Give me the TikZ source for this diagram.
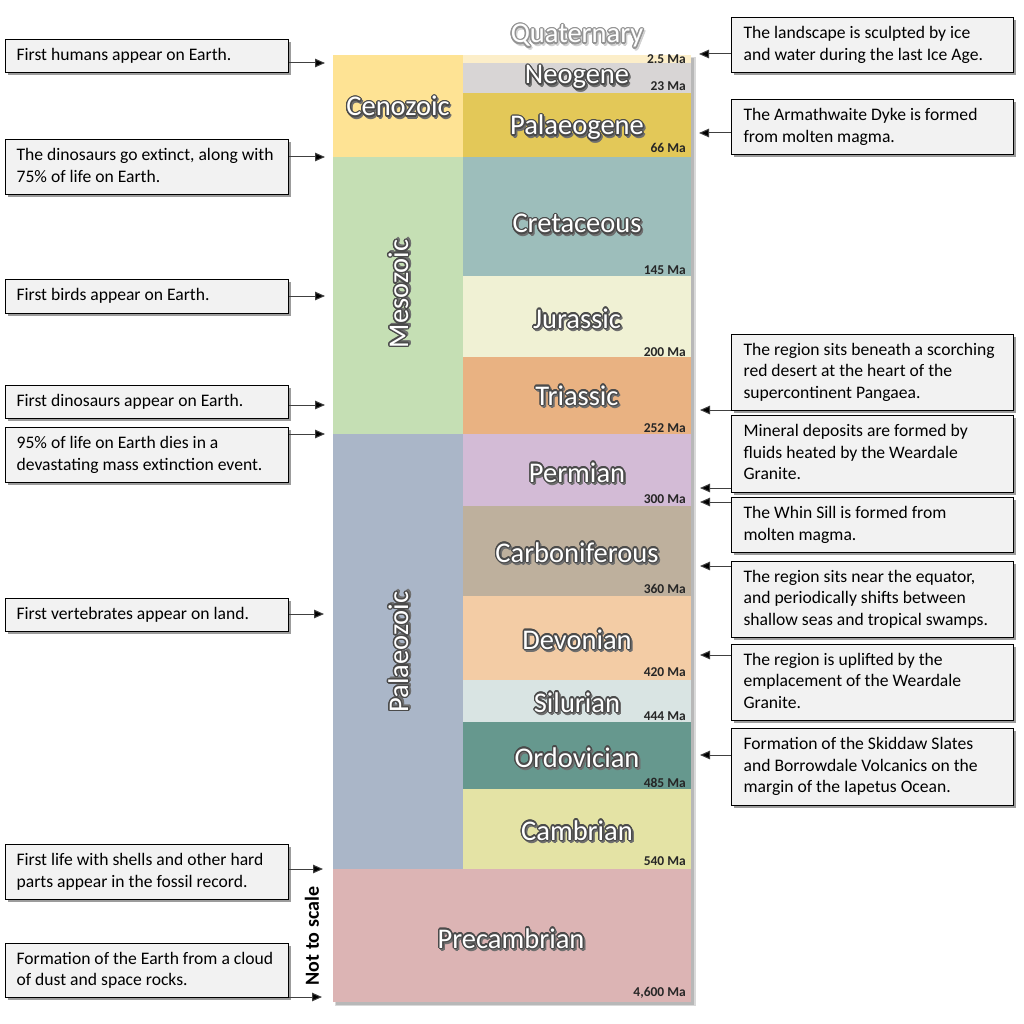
\documentclass[tikz,border=0pt]{standalone}
\usepackage{fontspec}
\setmainfont{Carlito}
\usetikzlibrary{shadows,arrows.meta}
\definecolor{cceno}{HTML}{FEE394}
\definecolor{cquat}{HTML}{FCEEC9}
\definecolor{cneo}{HTML}{D8D5D5}
\definecolor{cpalg}{HTML}{E3C858}
\definecolor{cmeso}{HTML}{C5DFB4}
\definecolor{ccret}{HTML}{9DBEBB}
\definecolor{cjur}{HTML}{F0F1D4}
\definecolor{ctri}{HTML}{E9B282}
\definecolor{cpalz}{HTML}{AAB6C8}
\definecolor{cperm}{HTML}{D3BBD6}
\definecolor{ccarb}{HTML}{BEB09D}
\definecolor{cdev}{HTML}{F3CCA5}
\definecolor{csil}{HTML}{D9E4E3}
\definecolor{cord}{HTML}{66988E}
\definecolor{ccamb}{HTML}{E4E3A5}
\definecolor{cpre}{HTML}{DCB4B4}
\definecolor{boxfill}{HTML}{F2F2F2}
\definecolor{outl}{HTML}{4A4A4A}
\definecolor{shad}{HTML}{6E6E6E}
\newcommand\olt[3]{%
  \setbox0=\hbox{#3}%
  \makebox[\wd0][l]{%
    \foreach \a in {0,45,...,315}{%
      \pgfmathsetlengthmacro\dx{1.6pt+1.2pt*cos(\a)}%
      \pgfmathsetlengthmacro\dy{-2pt+1.2pt*sin(\a)}%
      \rlap{\hskip\dx\raisebox{\dy}{\textcolor{#2}{#3}}}}%
    \foreach \a in {0,22.5,...,337.5}{%
      \pgfmathsetlengthmacro\dx{1.35pt*cos(\a)}%
      \pgfmathsetlengthmacro\dy{1.35pt*sin(\a)}%
      \rlap{\hskip\dx\raisebox{\dy}{\textcolor{#1}{#3}}}}%
    \textcolor{white}{#3}}}
\newcommand\ot[1]{\olt{outl}{shad}{#1}}
\newcommand\bxt[2]{\makebox[#1][l]{\begin{tabular}{@{}l@{}}#2\end{tabular}}}
\tikzset{
  tl/.style={font=\fontsize{28.5}{30}\selectfont, inner sep=0pt, anchor=base},
  ma/.style={font=\bfseries\fontsize{13.5}{14}\selectfont, text=black!85, inner sep=0pt, anchor=base east},
  ebox/.style={draw=black, line width=1.2pt, fill=boxfill, inner ysep=0pt,
    font=\fontsize{17.6}{21.5}\selectfont, anchor=north west,
    drop shadow={shadow xshift=2.5pt, shadow yshift=-2.5pt, fill=black!70, opacity=0.55}},
  lbox/.style={ebox, inner xsep=11pt},
  rbox/.style={ebox, inner xsep=12pt},
  arr/.style={draw=black!75, line width=1pt, -{Triangle[length=10pt,width=8.5pt,fill=black]}},
}
\newcommand\lt[1]{\bxt{261pt}{#1}}
\newcommand\rt[1]{\bxt{258pt}{#1}}
\begin{document}
\begin{tikzpicture}[x=1pt,y=-1pt]
\useasboundingbox (0,0) rectangle (1024,1024);
\fill[white] (0,0) rectangle (1024,1024);
% column shadow
\fill[black!15] (335,57) rectangle (695.5,1006);
\fill[black!28] (336,58) rectangle (694,1004.5);
% cells
\fill[cceno] (333,55) rectangle (463,157);
\fill[cquat] (463,55) rectangle (691,63);
\fill[cneo] (463,63) rectangle (691,93);
\fill[cpalg] (463,93) rectangle (691,157);
\fill[cmeso] (333,157) rectangle (463,434);
\fill[ccret] (463,157) rectangle (691,276);
\fill[cjur] (463,276) rectangle (691,357);
\fill[ctri] (463,357) rectangle (691,434);
\fill[cpalz] (333,434) rectangle (463,869);
\fill[cperm] (463,434) rectangle (691,506);
\fill[ccarb] (463,506) rectangle (691,596);
\fill[cdev] (463,596) rectangle (691,680);
\fill[csil] (463,680) rectangle (691,722);
\fill[cord] (463,722) rectangle (691,789);
\fill[ccamb] (463,789) rectangle (691,869);
\fill[cpre] (333,869) rectangle (691,1002);
% names
\node[tl] (quat) at (577,43) {\olt{black!42}{black!18}{Quaternary}};
\node[tl] (neo) at (577,84) {\ot{Neogene}};
\node[tl] (palg) at (577,135) {\ot{Palaeogene}};
\node[tl] (ceno) at (398,116) {\ot{Cenozoic}};
\node[tl] (cret) at (577,233) {\ot{Cretaceous}};
\node[tl] (jur) at (577,328) {\ot{Jurassic}};
\node[tl] (tri) at (577,405) {\ot{Triassic}};
\node[tl] (perm) at (577,482) {\ot{Permian}};
\node[tl] (carb) at (577,562) {\ot{Carboniferous}};
\node[tl] (dev) at (577,649) {\ot{Devonian}};
\node[tl] (sil) at (577,712) {\ot{Silurian}};
\node[tl] (ord) at (577,767) {\ot{Ordovician}};
\node[tl] (camb) at (577,840) {\ot{Cambrian}};
\node[tl] (pre) at (511,948) {\ot{Precambrian}};
\node[tl, rotate=90] (meso) at (408,294) {\ot{Mesozoic}};
\node[tl, rotate=90] (palz) at (408,652) {\ot{Palaeozoic}};
% ages
\node[ma] (a1) at (686,64) {2.5 Ma};
\node[ma] (a2) at (686,91) {23 Ma};
\node[ma] (a3) at (686,153) {66 Ma};
\node[ma] (a4) at (686,274) {145 Ma};
\node[ma] (a5) at (686,356) {200 Ma};
\node[ma] (a6) at (686,432) {252 Ma};
\node[ma] (a7) at (686,503) {300 Ma};
\node[ma] (a8) at (686,593) {360 Ma};
\node[ma] (a9) at (686,676) {420 Ma};
\node[ma] (a10) at (686,720) {444 Ma};
\node[ma] (a11) at (686,787) {485 Ma};
\node[ma] (a12) at (686,865) {540 Ma};
\node[ma] (a13) at (686,996) {4,600 Ma};
\node[font=\bfseries\fontsize{20}{21}\selectfont, rotate=90, inner sep=0pt] (nts) at (312,936) {Not to scale};
% left boxes
\node[lbox, minimum height=33pt] (L1) at (5,39) {\lt{First humans appear on Earth.}};
\node[lbox, minimum height=55pt] (L2) at (5,139) {\lt{The dinosaurs go extinct, along with\\75\% of life on Earth.}};
\node[lbox, minimum height=34pt] (L3) at (5,279) {\lt{First birds appear on Earth.}};
\node[lbox, minimum height=33pt] (L4) at (5,385) {\lt{First dinosaurs appear on Earth.}};
\node[lbox, minimum height=55pt] (L5) at (5,427) {\lt{95\% of life on Earth dies in a\\devastating mass extinction event.}};
\node[lbox, minimum height=33pt] (L6) at (5,598) {\lt{First vertebrates appear on land.}};
\node[lbox, minimum height=55pt] (L7) at (5,844) {\lt{First life with shells and other hard\\parts appear in the fossil record.}};
\node[lbox, minimum height=54pt] (L8) at (5,943) {\lt{Formation of the Earth from a cloud\\of dust and space rocks.}};
% right boxes
\node[rbox, minimum height=55pt] (R1) at (731,17) {\rt{The landscape is sculpted by ice\\and water during the last Ice Age.}};
\node[rbox, minimum height=55pt] (R2) at (731,99) {\rt{The Armathwaite Dyke is formed\\from molten magma.}};
\node[rbox, minimum height=76pt] (R3) at (731,334) {\rt{The region sits beneath a scorching\\red desert at the heart of the\\supercontinent Pangaea.}};
\node[rbox, minimum height=77pt] (R4) at (731,415) {\rt{Mineral deposits are formed by\\fluids heated by the Weardale\\Granite.}};
\node[rbox, minimum height=55pt] (R5) at (731,497) {\rt{The Whin Sill is formed from\\molten magma.}};
\node[rbox, minimum height=76pt] (R6) at (731,561) {\rt{The region sits near the equator,\\and periodically shifts between\\shallow seas and tropical swamps.}};
\node[rbox, minimum height=76pt] (R7) at (731,644) {\rt{The region is uplifted by the\\emplacement of the Weardale\\Granite.}};
\node[rbox, minimum height=77pt] (R8) at (731,728) {\rt{Formation of the Skiddaw Slates\\and Borrowdale Volcanics on the\\margin of the Iapetus Ocean.}};
% arrow tips
\coordinate (tl1) at (325,63);
\coordinate (tl2) at (325,157);
\coordinate (tl3) at (325,296);
\coordinate (tl4) at (325,405);
\coordinate (tl5) at (325,434);
\coordinate (tl6) at (324,614);
\coordinate (tl7) at (323,869);
\coordinate (tl8) at (322,997);
\coordinate (tr1) at (699,54);
\coordinate (tr2) at (699,133);
\coordinate (tr3) at (700,410);
\coordinate (tr4) at (700,488);
\coordinate (tr5) at (700,502);
\coordinate (tr6) at (700,566);
\coordinate (tr7) at (700,655);
\coordinate (tr8) at (700,755);
\foreach \i in {1,...,8}{
  \draw[arr] (L\i.east |- tl\i) -- (tl\i);
  \draw[arr] (R\i.west |- tr\i) -- (tr\i);
}
\end{tikzpicture}
\end{document}
